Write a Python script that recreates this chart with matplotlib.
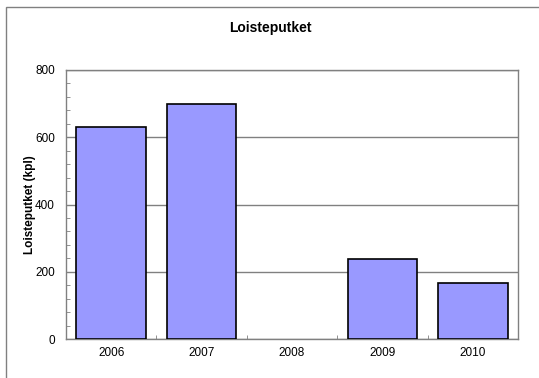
import matplotlib.pyplot as plt
from matplotlib.patches import Rectangle
from matplotlib.ticker import MultipleLocator

plt.rcParams['font.family'] = ['Liberation Sans', 'DejaVu Sans']

# Data
years = ['2006', '2007', '2008', '2009', '2010']
counts = [630, 700, 0, 238, 168]

W, H = 539, 378
fig = plt.figure(figsize=(W / 100, H / 100), dpi=100)
fig.patch.set_facecolor('white')

# chart frame (open at right and bottom)
fig.add_artist(Rectangle((6 / W, -0.1), 1.2, 1.1 - 7 / H, transform=fig.transFigure,
                         fill=False, edgecolor='#808080', linewidth=1.0))

ax = fig.add_axes([66 / W, 1 - 339 / H, (518 - 66) / W, (339 - 70) / H])

x = range(len(years))
edges = ['black' if v > 0 else 'none' for v in counts]
ax.bar(x, counts, width=0.77, color='#9999FF', edgecolor=edges, linewidth=1.2, zorder=3)

ax.set_xlim(-0.5, len(years) - 0.5)
ax.set_ylim(0, 800)
ax.yaxis.set_major_locator(MultipleLocator(200))
ax.yaxis.set_minor_locator(MultipleLocator(40))
ax.grid(axis='y', which='major', color='#808080', linewidth=1.0, zorder=0)

ax.set_xticks(list(x))
ax.set_xticklabels(years)
ax.set_xticks([i + 0.5 for i in range(len(years) - 1)], minor=True)

ax.tick_params(axis='x', which='major', length=0, labelsize=8.5, pad=6)
ax.tick_params(axis='x', which='minor', direction='in', length=3, color='#808080')
ax.tick_params(axis='y', which='major', direction='in', length=0, labelsize=8.5, pad=8)
ax.tick_params(axis='y', which='minor', direction='in', length=3, color='#808080')

for s in ax.spines.values():
    s.set_color('#808080')
    s.set_linewidth(1.0)

ax.set_ylabel('Loisteputket (kpl)', fontsize=8.5, fontweight='bold', labelpad=-1)
fig.text(270 / W, 1 - 28 / H, 'Loisteputket', ha='center', va='center',
         fontsize=10, fontweight='bold')

fig.savefig('out.png', dpi=100)
